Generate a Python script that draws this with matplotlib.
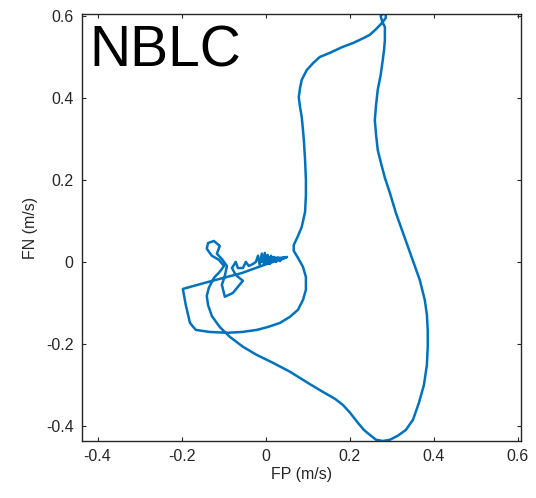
#!/usr/bin/env python3
"""
Force-plane trajectory (FP vs FN) for the NBLC condition.
"""
import matplotlib
matplotlib.use('Agg')
import matplotlib.pyplot as plt

# trajectory, in m/s
fp = [0.046, -0.002, -0.056, -0.137, -0.197, -0.190, -0.180, -0.166,
      -0.133, -0.092, -0.056, -0.021, 0.005, 0.034, 0.058, 0.077, 0.089, 0.096,
      0.096, 0.089, 0.077, 0.067, 0.067, 0.077, 0.086, 0.094, 0.096, 0.096,
      0.094, 0.091, 0.089, 0.086, 0.082, 0.079, 0.082, 0.086, 0.098, 0.113,
      0.129, 0.153, 0.182, 0.208, 0.229, 0.248, 0.263, 0.277,
      0.286, 0.286, 0.279, 0.274, 0.277, 0.284,
      0.284, 0.282, 0.279, 0.274, 0.267, 0.263, 0.260, 0.263, 0.267, 0.274,
      0.284, 0.296, 0.310, 0.327, 0.346, 0.367, 0.379, 0.384, 0.386, 0.386,
      0.384, 0.377, 0.365, 0.351, 0.334, 0.315, 0.296, 0.279, 0.263, 0.248,
      0.234, 0.220, 0.201, 0.184, 0.165, 0.136, 0.105, 0.058, 0.017, -0.021,
      -0.054, -0.085, -0.109, -0.128, -0.137, -0.140, -0.135, -0.123,
      -0.109, -0.099, -0.111, -0.128, -0.140, -0.137, -0.123, -0.109, -0.116, -0.104,
      -0.092, -0.097, -0.104, -0.097, -0.078, -0.054, -0.071,
      -0.080, -0.071, -0.066, -0.054, -0.047, -0.040, -0.030, -0.023, -0.018, -0.014,
      -0.009, -0.004, -0.002, 0.003, 0.005, 0.010, 0.013, 0.017, 0.020, 0.025,
      0.029, 0.034, 0.041, 0.051, 0.034, 0.015, 0.001, -0.009, 0.010, 0.046]
fn = [0.010, -0.007, -0.027, -0.049, -0.066, -0.105, -0.149, -0.166,
      -0.171, -0.173, -0.171, -0.166, -0.159, -0.149, -0.134, -0.117, -0.093, -0.068,
      -0.037, -0.012, 0.010, 0.027, 0.041, 0.063, 0.085, 0.122, 0.163, 0.200,
      0.249, 0.298, 0.322, 0.354, 0.378, 0.402, 0.424, 0.444, 0.468, 0.485,
      0.500, 0.510, 0.524, 0.534, 0.544, 0.554, 0.568, 0.583,
      0.595, 0.605, 0.605, 0.600, 0.588, 0.573,
      0.541, 0.517, 0.493, 0.456, 0.420, 0.383, 0.346, 0.310, 0.273, 0.244,
      0.205, 0.168, 0.120, 0.071, 0.017, -0.044, -0.093, -0.129, -0.166, -0.207,
      -0.251, -0.300, -0.344, -0.385, -0.410, -0.424, -0.434, -0.437, -0.434, -0.422,
      -0.410, -0.393, -0.368, -0.349, -0.334, -0.317, -0.298, -0.268, -0.246, -0.227,
      -0.207, -0.183, -0.159, -0.132, -0.105, -0.083, -0.063, -0.039,
      -0.024, -0.010, 0.005, 0.015, 0.032, 0.046, 0.051, 0.039, 0.020, 0.007,
      -0.010, -0.034, -0.056, -0.085, -0.076, -0.046, -0.032,
      -0.015, 0.000, -0.015, -0.015, 0.000, -0.010, -0.005, 0.000, 0.015, -0.007,
      0.020, -0.005, 0.022, -0.002, 0.017, -0.005, 0.015, 0.000, 0.012, 0.000,
      0.010, 0.002, 0.010, 0.012, 0.005, 0.005, 0.005, 0.000, 0.010, 0.010]

ticks = [-0.4, -0.2, 0, 0.2, 0.4, 0.6]
tick_labels = ['-0.4', '-0.2', '0', '0.2', '0.4', '0.6']

plt.rcParams['font.family'] = ['Liberation Sans', 'DejaVu Sans']
axis_gray = '#262626'

fig = plt.figure(figsize=(5.36, 4.98), dpi=100)
ax = fig.add_axes([0.153, 0.1145, 0.819, 0.8575])

ax.plot(fp, fn, color='#0072BD', linewidth=1.8,
        solid_joinstyle='round', solid_capstyle='round')

ax.set_xlim(-0.437, 0.608)
ax.set_ylim(-0.437, 0.605)
ax.set_xticks(ticks)
ax.set_xticklabels(tick_labels)
ax.set_yticks(ticks)
ax.set_yticklabels(tick_labels)
ax.tick_params(direction='in', length=3, width=0.8, top=True, right=True,
               labelsize=11.5, colors=axis_gray, pad=6)
for s in ax.spines.values():
    s.set_color(axis_gray)
    s.set_linewidth(1.0)

ax.set_xlabel('FP (m/s)', fontsize=11.5, color=axis_gray, labelpad=2)
ax.set_ylabel('FN (m/s)', fontsize=11.5, color=axis_gray, labelpad=6)

ax.text(0.016, 0.876, 'NBLC', transform=ax.transAxes, fontsize=41,
        ha='left', va='baseline', color='black')

fig.savefig('out.png', dpi=100)
